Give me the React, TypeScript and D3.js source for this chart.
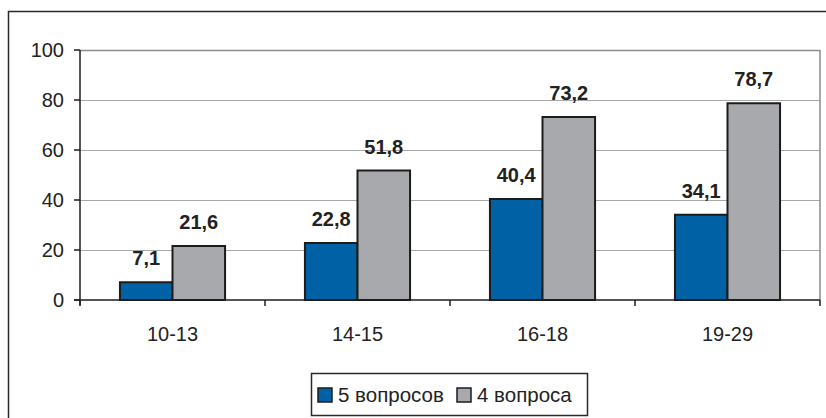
import * as d3 from 'd3';
import { useEffect, useRef } from 'react';

const categories = ['10-13', '14-15', '16-18', '19-29'];
const seriesNames = ['5 вопросов', '4 вопроса'];
const fiveQuestions = [7.1, 22.8, 40.4, 34.1];
const fourQuestions = [21.6, 51.8, 73.2, 78.7];
const yTicks = [0, 20, 40, 60, 80, 100];
const colors = ['#0062a4', '#a7a9ac'];

const W = 826;
const H = 418;

export default function App() {
  const svgRef = useRef<SVGSVGElement>(null);

  useEffect(() => {
    if (!svgRef.current) return;
    const svg = d3.select(svgRef.current);
    svg.selectAll('*').remove();

    const plot = { left: 80, right: 820, top: 50, bottom: 300 };
    const font = '"Liberation Sans", Arial, sans-serif';

    // outer frame (cut at right and bottom)
    svg
      .append('rect')
      .attr('x', 8.5)
      .attr('y', 11.5)
      .attr('width', 840)
      .attr('height', 420)
      .attr('fill', 'white')
      .attr('stroke', '#2a2a2a')
      .attr('stroke-width', 1.5);

    const x = d3.scaleBand<string>().domain(categories).range([plot.left, plot.right]).padding(0);
    const xInner = d3
      .scaleBand<string>()
      .domain(seriesNames)
      .range([0, x.bandwidth()])
      .paddingInner(0)
      .paddingOuter(0.76);
    const y = d3.scaleLinear().domain([0, 100]).range([plot.bottom, plot.top]);

    // gridlines
    svg
      .append('g')
      .selectAll('line')
      .data(yTicks.filter((t) => t > 0))
      .join('line')
      .attr('x1', plot.left)
      .attr('x2', plot.right)
      .attr('y1', (d) => y(d) + 0.5)
      .attr('y2', (d) => y(d) + 0.5)
      .attr('stroke', (d) => (d === 100 ? '#8a8a8a' : '#a8a8a8'))
      .attr('stroke-width', (d) => (d === 100 ? 1.5 : 1));

    // plot right border
    svg
      .append('line')
      .attr('x1', plot.right)
      .attr('x2', plot.right)
      .attr('y1', plot.top)
      .attr('y2', plot.bottom)
      .attr('stroke', '#8a8a8a')
      .attr('stroke-width', 1.5);

    // bars
    const rows = categories.map((c, i) => ({ cat: c, values: [fiveQuestions[i], fourQuestions[i]] }));
    const groups = svg
      .append('g')
      .selectAll('g')
      .data(rows)
      .join('g')
      .attr('transform', (d) => `translate(${x(d.cat)},0)`);

    groups
      .selectAll('rect')
      .data((d) => d.values.map((v, j) => ({ v, s: seriesNames[j], j })))
      .join('rect')
      .attr('x', (d) => xInner(d.s)!)
      .attr('y', (d) => y(d.v))
      .attr('width', xInner.bandwidth())
      .attr('height', (d) => y(0) - y(d.v))
      .attr('fill', (d) => colors[d.j])
      .attr('stroke', '#1c1c1c')
      .attr('stroke-width', 2);

    groups
      .selectAll('text')
      .data((d) => d.values.map((v, j) => ({ v, s: seriesNames[j] })))
      .join('text')
      .attr('x', (d) => xInner(d.s)! + xInner.bandwidth() / 2)
      .attr('y', (d) => y(d.v) - 17)
      .attr('text-anchor', 'middle')
      .style('font-family', font)
      .style('font-weight', 'bold')
      .style('font-size', '20px')
      .attr('fill', '#222')
      .text((d) => d3.format('.1f')(d.v).replace('.', ','));

    // y axis
    const yAxis = svg.append('g');
    yAxis
      .append('line')
      .attr('x1', plot.left)
      .attr('x2', plot.left)
      .attr('y1', plot.top)
      .attr('y2', plot.bottom + 5)
      .attr('stroke', '#1c1c1c')
      .attr('stroke-width', 1.5);
    yAxis
      .selectAll('line.tick')
      .data(yTicks)
      .join('line')
      .attr('class', 'tick')
      .attr('x1', plot.left - 6)
      .attr('x2', plot.left)
      .attr('y1', (d) => y(d))
      .attr('y2', (d) => y(d))
      .attr('stroke', '#1c1c1c')
      .attr('stroke-width', 1.5);
    yAxis
      .selectAll('text')
      .data(yTicks)
      .join('text')
      .attr('x', 64)
      .attr('y', (d) => y(d) + 7)
      .attr('text-anchor', 'end')
      .style('font-family', font)
      .style('font-size', '20px')
      .attr('fill', '#222')
      .text((d) => d);

    // x axis
    const xAxis = svg.append('g');
    xAxis
      .append('line')
      .attr('x1', plot.left - 6)
      .attr('x2', plot.right)
      .attr('y1', plot.bottom)
      .attr('y2', plot.bottom)
      .attr('stroke', '#1c1c1c')
      .attr('stroke-width', 1.5);
    const bounds = [...categories.map((c) => x(c)!), plot.right];
    xAxis
      .selectAll('line.tick')
      .data(bounds)
      .join('line')
      .attr('class', 'tick')
      .attr('x1', (d) => d)
      .attr('x2', (d) => d)
      .attr('y1', plot.bottom)
      .attr('y2', plot.bottom + 6)
      .attr('stroke', '#1c1c1c')
      .attr('stroke-width', 1.5);
    xAxis
      .selectAll('text')
      .data(categories)
      .join('text')
      .attr('x', (d) => x(d)! + x.bandwidth() / 2)
      .attr('y', 341)
      .attr('text-anchor', 'middle')
      .style('font-family', font)
      .style('font-size', '20px')
      .attr('fill', '#222')
      .text((d) => d);

    // legend
    const legend = svg.append('g');
    legend
      .append('rect')
      .attr('x', 311.5)
      .attr('y', 373.5)
      .attr('width', 276)
      .attr('height', 42)
      .attr('fill', 'white')
      .attr('stroke', '#2a2a2a')
      .attr('stroke-width', 1.5);
    const legendX = [318, 457];
    seriesNames.forEach((name, i) => {
      legend
        .append('rect')
        .attr('x', legendX[i])
        .attr('y', 388)
        .attr('width', 14)
        .attr('height', 14)
        .attr('fill', colors[i])
        .attr('stroke', '#1c1c1c')
        .attr('stroke-width', 1.5);
      legend
        .append('text')
        .attr('x', legendX[i] + 20)
        .attr('y', 402)
        .style('font-family', font)
        .style('font-size', '20.5px')
        .attr('fill', '#222')
        .text(name);
    });
  }, []);

  return (
    <svg
      ref={svgRef}
      width={W}
      height={H}
      style={{ position: 'absolute', left: 0, top: 0, background: 'white' }}
    />
  );
}
